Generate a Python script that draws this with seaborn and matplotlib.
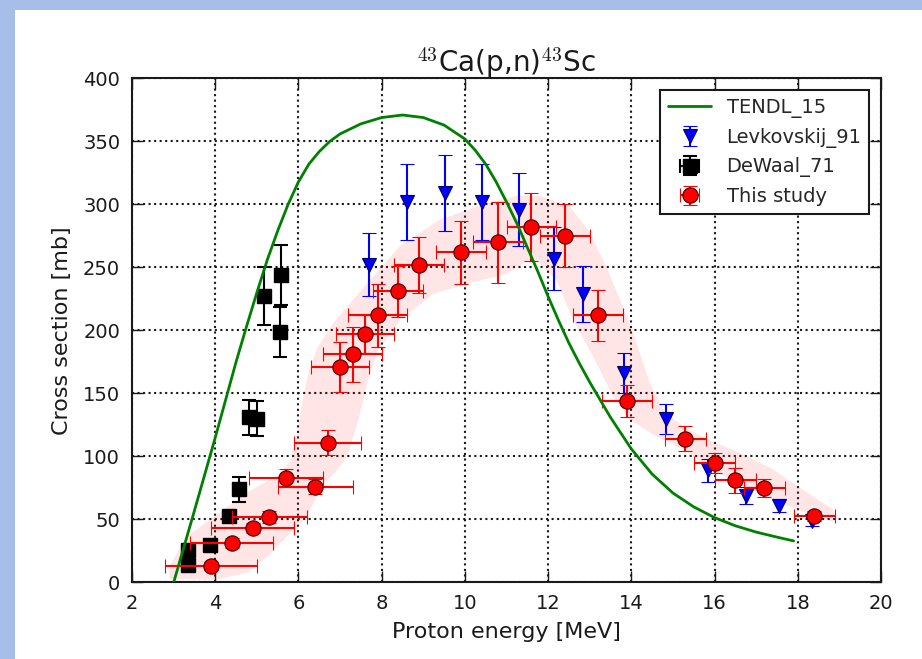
import numpy as np
import matplotlib
matplotlib.use("Agg")
import matplotlib.pyplot as plt
import seaborn as sns
from matplotlib.patches import Rectangle

# TENDL_15 evaluation (proton energy MeV, cross section mb)
tendl_e = [3.0, 3.5, 4.0, 4.5, 4.75, 5.0, 5.25, 5.5, 5.75, 6.0, 6.25, 6.5, 6.75,
           7.0, 7.5, 8.0, 8.5, 9.0, 9.5, 10.0, 10.25, 10.5, 10.75, 11.0, 11.25,
           11.5, 11.75, 12.0, 12.25, 12.5, 12.75, 13.0, 13.5, 14.0, 14.5, 15.0,
           15.5, 16.0, 16.5, 17.0, 17.5, 17.9]
tendl_xs = [0, 57, 115, 175, 203, 230, 256, 279, 300, 318, 332, 342, 350,
            356, 364, 369, 371, 369, 363, 352, 343, 332, 318, 302, 285,
            266, 247, 227, 208, 190, 174, 159, 131, 106, 86, 71,
            60, 51.5, 45, 40, 36, 33]

# Levkovskij_91
lev_e = [7.7, 8.62, 9.52, 10.42, 11.3, 12.14, 12.83, 13.83, 14.84, 15.84, 16.75, 17.55, 18.35]
lev_xs = [252, 302, 309, 302, 296, 257, 229, 166, 130, 89, 69, 61, 49]
lev_dxs = [25, 30, 30, 30, 29, 25, 22, 16, 12, 9, 7, 5, 4]

# DeWaal_71
dew_e = [3.34, 3.34, 3.88, 4.33, 4.57, 4.80, 5.0, 5.18, 5.56, 5.58]
dew_xs = [14, 26, 30, 53, 74, 131, 130, 227, 199, 244]
dew_dxs = [3, 3, 3, 4, 10, 14, 14, 23, 20, 24]
dew_de = [0.05] * len(dew_e)

# This study
ts_e = [3.9, 4.4, 4.9, 5.3, 5.7, 6.4, 6.7, 7.0, 7.3, 7.6, 7.9, 8.4, 8.9, 9.9,
        10.8, 11.6, 12.4, 13.2, 13.9, 15.3, 16.0, 16.5, 17.2, 18.4]
ts_xs = [13, 31, 43, 52, 83, 76, 111, 171, 181, 197, 212, 231, 252, 262,
         270, 282, 275, 212, 144, 114, 95, 81, 75, 53]
ts_de = [1.1, 1.0, 1.0, 0.9, 0.9, 0.9, 0.8, 0.7, 0.7, 0.7, 0.7, 0.6, 0.6, 0.6,
         0.6, 0.6, 0.6, 0.6, 0.6, 0.5, 0.5, 0.5, 0.5, 0.5]
ts_dxs = [3, 4, 4, 5, 7, 6, 10, 20, 22, 15, 25, 20, 22, 25,
          32, 27, 25, 20, 13, 10, 8, 10, 7, 4]

# uncertainty band around "This study" (upper/left edge and lower/right edge)
band_up_e = [2.9, 3.3, 4.0, 4.8, 5.5, 5.8, 5.95, 6.1, 6.25, 6.45, 6.84, 7.64, 8.44,
             9.4, 10.44, 11.25, 11.8, 12.53, 13.0, 13.41, 14.03, 14.45, 14.8,
             15.24, 15.8, 16.6, 17.4, 18.2, 18.85]
band_up_xs = [13, 36, 53, 72, 85, 96, 115, 145, 168, 186, 206, 237, 267,
              288, 300, 307, 307, 298, 278, 250, 200, 158, 136,
              124, 114, 103, 90, 72, 58]
band_lo_e = [2.9, 4.0, 4.8, 5.3, 5.7, 6.2, 6.55, 6.9, 7.17, 7.45, 7.65, 7.9, 8.44,
             9.24, 10.04, 11.0, 11.65, 12.2, 12.6, 13.09, 13.57, 13.97, 14.6,
             15.4, 15.8, 16.6, 17.4, 18.2, 18.85]
band_lo_xs = [3, 2, 8, 22, 36, 52, 76, 88, 100, 130, 158, 184, 208,
              229, 237, 245, 258, 240, 208, 179, 147, 129, 116,
              103, 92, 78, 66, 55, 48]

sns.set_theme(style="ticks")
plt.rcParams['font.family'] = ['DejaVu Sans']
plt.rcParams['mathtext.fontset'] = 'cm'

fig = plt.figure(figsize=(9.22, 6.59), dpi=100, facecolor='#a6bee8')
fig.add_artist(Rectangle((15 / 922, 0), 1, 1 - 10 / 659, transform=fig.transFigure,
                         facecolor='white', edgecolor='none', zorder=-1))
ax = fig.add_axes([0.1432, 0.1161, 0.8123, 0.7648])

# band
ax.fill(np.r_[band_up_e, band_lo_e[::-1]], np.r_[band_up_xs, band_lo_xs[::-1]],
        color='red', alpha=0.1, lw=0, zorder=1)

# TENDL curve
sns.lineplot(x=tendl_e, y=tendl_xs, ax=ax, color='green', lw=2, label='TENDL_15', zorder=5)

ax.errorbar(lev_e, lev_xs, yerr=lev_dxs, fmt='v', color='blue', mec='#000060', mew=0.8,
            ms=10, capsize=5, elinewidth=1.5, capthick=1.5, label='Levkovskij_91', zorder=2)
ax.errorbar(dew_e, dew_xs, xerr=dew_de, yerr=dew_dxs, fmt='s', color='black', ms=10,
            capsize=5, elinewidth=1.5, capthick=1.5, label='DeWaal_71', zorder=3)
ax.errorbar(ts_e, ts_xs, xerr=ts_de, yerr=ts_dxs, fmt='o', mfc='red', mec='#400000', mew=0.8,
            ecolor='red', ms=11, capsize=5, elinewidth=1.5, capthick=1.5,
            label='This study', zorder=4)

ax.set_xlim(2, 20)
ax.set_ylim(0, 400)
ax.set_xticks(np.arange(2, 21, 2))
ax.set_yticks(np.arange(0, 401, 50))
ax.grid(True, linestyle=':', color='k', linewidth=1.5)
ax.set_axisbelow(True)
for s in ax.spines.values():
    s.set_linewidth(1.5)
    s.set_color('k')
ax.tick_params(direction='in', top=True, right=True, length=8, width=1, labelsize=14,
               colors='k', pad=8.5)

ax.set_xlabel('Proton energy [MeV]', fontsize=16, color='k', labelpad=6)
ax.set_ylabel('Cross section [mb]', fontsize=16, color='k', labelpad=8)
ax.set_title(r'$^{43}$Ca(p,n)$^{43}$Sc', fontsize=20, pad=5, color='k')

handles, labels = ax.get_legend_handles_labels()
hmap = dict(zip(labels, handles))
order = ['TENDL_15', 'Levkovskij_91', 'DeWaal_71', 'This study']
leg = ax.legend([hmap[k] for k in order], order, loc='upper right', fontsize=14,
                frameon=True, fancybox=False, edgecolor='k', framealpha=1,
                borderaxespad=0.6, handlelength=2.2, numpoints=1)
leg.get_frame().set_linewidth(1.5)

fig.savefig('out.png', dpi=100, facecolor=fig.get_facecolor())
